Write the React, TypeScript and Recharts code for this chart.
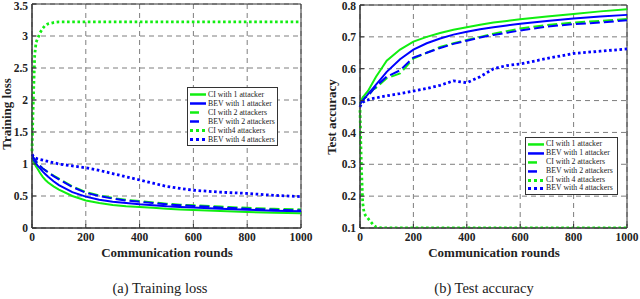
import React from 'react';
import { LineChart, Line, XAxis, YAxis, CartesianGrid, ReferenceArea, Legend } from 'recharts';

const rounds = [0, 5, 10, 15, 20, 30, 40, 50, 60, 80, 100, 150, 200, 250, 300, 350, 400, 450, 500, 550, 600, 700, 800, 900, 1000];
const xTicks = [0, 200, 400, 600, 800, 1000];
const lossTicks = [0, 0.5, 1, 1.5, 2, 2.5, 3, 3.5];
const accTicks = [0.1, 0.2, 0.3, 0.4, 0.5, 0.6, 0.7, 0.8];

// Training loss
const lossCI1 = [1.1, 1.05, 1.0, 0.96, 0.93, 0.86, 0.8, 0.75, 0.71, 0.65, 0.6, 0.5, 0.43, 0.39, 0.36, 0.34, 0.33, 0.315, 0.3, 0.29, 0.28, 0.265, 0.25, 0.24, 0.23];
const lossBEV1 = [1.1, 1.07, 1.04, 1.01, 0.98, 0.93, 0.88, 0.84, 0.8, 0.73, 0.67, 0.56, 0.49, 0.44, 0.41, 0.39, 0.37, 0.355, 0.34, 0.33, 0.32, 0.3, 0.285, 0.27, 0.26];
const lossCI2 = [1.15, 1.1, 1.07, 1.04, 1.01, 0.97, 0.93, 0.9, 0.87, 0.82, 0.77, 0.65, 0.56, 0.51, 0.47, 0.44, 0.42, 0.4, 0.38, 0.365, 0.355, 0.335, 0.315, 0.3, 0.29];
const lossBEV2 = [1.15, 1.1, 1.07, 1.04, 1.01, 0.97, 0.93, 0.9, 0.87, 0.81, 0.76, 0.64, 0.55, 0.5, 0.46, 0.43, 0.41, 0.39, 0.37, 0.355, 0.345, 0.32, 0.3, 0.285, 0.275];
const lossCI4 = [1.2, 2.0, 2.7, 2.9, 2.95, 3.05, 3.12, 3.17, 3.19, 3.21, 3.22, 3.22, 3.22, 3.22, 3.22, 3.22, 3.22, 3.22, 3.22, 3.22, 3.22, 3.22, 3.22, 3.22, 3.22];
const lossBEV4 = [1.15, 1.12, 1.1, 1.09, 1.08, 1.07, 1.06, 1.05, 1.04, 1.02, 1.0, 0.97, 0.94, 0.9, 0.85, 0.8, 0.75, 0.7, 0.65, 0.62, 0.59, 0.56, 0.54, 0.51, 0.49];

// Test accuracy
const accCI1 = [0.49, 0.5, 0.51, 0.515, 0.52, 0.53, 0.545, 0.56, 0.575, 0.6, 0.625, 0.66, 0.685, 0.7, 0.712, 0.722, 0.73, 0.738, 0.745, 0.75, 0.755, 0.764, 0.772, 0.78, 0.787];
const accBEV1 = [0.49, 0.495, 0.5, 0.505, 0.51, 0.52, 0.53, 0.54, 0.55, 0.57, 0.59, 0.63, 0.66, 0.68, 0.695, 0.707, 0.716, 0.724, 0.73, 0.736, 0.741, 0.75, 0.758, 0.764, 0.769];
const accCI2 = [0.49, 0.495, 0.5, 0.505, 0.51, 0.515, 0.525, 0.535, 0.54, 0.555, 0.57, 0.585, 0.632, 0.65, 0.668, 0.68, 0.69, 0.7, 0.71, 0.718, 0.726, 0.737, 0.745, 0.75, 0.756];
const accBEV2 = [0.49, 0.495, 0.5, 0.505, 0.51, 0.515, 0.525, 0.535, 0.545, 0.56, 0.575, 0.595, 0.635, 0.65, 0.665, 0.678, 0.688, 0.698, 0.706, 0.713, 0.72, 0.732, 0.74, 0.745, 0.752];
const accCI4 = [0.47, 0.3, 0.18, 0.15, 0.14, 0.13, 0.12, 0.11, 0.103, 0.1, 0.1, 0.1, 0.1, 0.1, 0.1, 0.1, 0.1, 0.1, 0.1, 0.1, 0.1, 0.1, 0.1, 0.1, 0.1];
const accBEV4 = [0.48, 0.49, 0.495, 0.497, 0.5, 0.502, 0.505, 0.507, 0.508, 0.512, 0.515, 0.522, 0.53, 0.538, 0.548, 0.562, 0.556, 0.575, 0.6, 0.61, 0.615, 0.632, 0.648, 0.655, 0.662];

const lossNames = ['CI with 1 attacker', 'BEV with 1 attacker', 'CI with 2 attackers', 'BEV with 2 attackers', 'CI with4 attackers', 'BEV with 4 attackers'];
const accNames = ['CI with 1 attacker', 'BEV with 1 attacker', 'CI with 2 attackers', 'BEV with 2 attackers', 'CI with 4 attackers', 'BEV with 4 attackers'];

const GREEN = '#11ee11';
const BLUE = '#0000ff';
const FONT = '"Liberation Serif", "DejaVu Serif", serif';

const styles = [
  { color: GREEN, dash: undefined as string | undefined, w: 2, kind: 'solid' },
  { color: BLUE, dash: undefined as string | undefined, w: 2, kind: 'solid' },
  { color: GREEN, dash: '10 4', w: 2, kind: 'dash' },
  { color: BLUE, dash: '10 4', w: 2, kind: 'dash' },
  { color: GREEN, dash: '2.6 2.6', w: 2.8, kind: 'dot' },
  { color: BLUE, dash: '2.6 2.6', w: 2.8, kind: 'dot' },
];

function build(arrs: number[][]) {
  return rounds.map((r, i) => {
    const o: Record<string, number> = { round: r };
    arrs.forEach((a, k) => {
      o['s' + k] = a[i];
    });
    return o;
  });
}

const lossData = build([lossCI1, lossBEV1, lossCI2, lossBEV2, lossCI4, lossBEV4]);
const accData = build([accCI1, accBEV1, accCI2, accBEV2, accCI4, accBEV4]);

function LegendBox({ names, width, rowH }: { names: string[]; width: number; rowH: number }) {
  return (
    <div
      style={{
        width,
        background: '#fff',
        border: '1px solid #333',
        boxSizing: 'border-box',
        padding: '2px 1px 1px 1px',
        fontFamily: FONT,
        fontSize: 7.8,
        lineHeight: rowH + 'px',
        color: '#222',
      }}
    >
      {names.map((n, i) => {
        const s = styles[i];
        return (
          <div key={i} style={{ display: 'flex', alignItems: 'center', height: rowH, whiteSpace: 'nowrap' }}>
            <svg width={19} height={rowH} style={{ flex: 'none' }}>
              {s.kind === 'solid' && <line x1={1} x2={17} y1={rowH / 2} y2={rowH / 2} stroke={s.color} strokeWidth={2.5} />}
              {s.kind === 'dash' && <line x1={1} x2={10} y1={rowH / 2} y2={rowH / 2} stroke={s.color} strokeWidth={2.5} />}
              {s.kind === 'dot' && (
                <line x1={1} x2={17} y1={rowH / 2} y2={rowH / 2} stroke={s.color} strokeWidth={3} strokeDasharray="3 3" />
              )}
            </svg>
            <span style={{ marginLeft: 0 }}>{n}</span>
          </div>
        );
      })}
    </div>
  );
}

const tickStyle = { fontFamily: FONT, fontSize: 11.5, fontWeight: 700, fill: '#222' };

function Chart({
  data,
  names,
  yTicks,
  yDomain,
  yWidth,
  margin,
  legendPos,
  legendWidth,
  rowH,
  yFmt,
}: {
  data: Record<string, number>[];
  names: string[];
  yTicks: number[];
  yDomain: [number, number];
  yWidth: number;
  margin: { top: number; right: number; bottom: number; left: number };
  legendPos: { left: number; top: number };
  legendWidth: number;
  rowH: number;
  yFmt: (v: number) => string;
}) {
  return (
    <LineChart width={320} height={260} data={data} margin={margin}>
      <CartesianGrid stroke="#6f6f6f" strokeDasharray="5 4" strokeWidth={0.9} />
      <XAxis
        dataKey="round"
        type="number"
        domain={[0, 1000]}
        ticks={xTicks}
        height={32}
        tickSize={-4}
        tickMargin={9}
        tick={tickStyle}
        stroke="#333"
        axisLine={{ stroke: '#333' }}
        tickLine={{ stroke: '#333' }}
      />
      <YAxis
        type="number"
        domain={yDomain}
        ticks={yTicks}
        width={yWidth}
        tickSize={-4}
        tickMargin={8}
        tick={tickStyle}
        tickFormatter={yFmt}
        allowDataOverflow
        axisLine={{ stroke: '#333' }}
        tickLine={{ stroke: '#333' }}
      />
      {styles.map((s, i) => (
        <Line
          key={i}
          dataKey={'s' + i}
          name={names[i]}
          type="linear"
          stroke={s.color}
          strokeWidth={s.w}
          strokeDasharray={s.dash}
          dot={false}
          activeDot={false}
          isAnimationActive={false}
        />
      ))}
      <ReferenceArea
        x1={0}
        x2={1000}
        y1={yDomain[0]}
        y2={yDomain[1]}
        fill="none"
        fillOpacity={0}
        stroke="#333"
        strokeWidth={1}
        ifOverflow="visible"
      />
      <Legend
        layout="horizontal"
        verticalAlign="middle"
        align="center"
        wrapperStyle={{ left: legendPos.left, top: legendPos.top, width: legendWidth, height: 'auto' }}
        content={() => <LegendBox names={names} width={legendWidth} rowH={rowH} />}
      />
    </LineChart>
  );
}

export default function App() {
  return (
    <div style={{ position: 'fixed', left: 0, top: 0, width: 640, height: 299, background: '#fff', overflow: 'hidden' }}>
      <div style={{ position: 'absolute', left: 0, top: 0 }}>
        <Chart
          data={lossData}
          names={lossNames}
          yTicks={lossTicks}
          yDomain={[0, 3.5]}
          yWidth={32}
          margin={{ top: 4, right: 19, bottom: 0, left: 0 }}
          legendPos={{ left: 187, top: 87 }}
          legendWidth={91}
          rowH={9}
          yFmt={(v) => String(v)}
        />
      </div>
      <div style={{ position: 'absolute', left: 320, top: 0 }}>
        <Chart
          data={accData}
          names={accNames}
          yTicks={accTicks}
          yDomain={[0.1, 0.8]}
          yWidth={40}
          margin={{ top: 5, right: 13, bottom: 0, left: 0 }}
          legendPos={{ left: 205, top: 137 }}
          legendWidth={93}
          rowH={8.9}
          yFmt={(v) => v.toFixed(1)}
        />
      </div>
      <svg width={640} height={299} style={{ position: 'absolute', left: 0, top: 0, pointerEvents: 'none' }}>
        <g fontFamily={FONT} fill="#222">
          <text x={167} y={257} textAnchor="middle" fontSize={13} fontWeight={700}>Communication rounds</text>
          <text x={494} y={257} textAnchor="middle" fontSize={13} fontWeight={700}>Communication rounds</text>
          <text x={11} y={114} textAnchor="middle" fontSize={13} fontWeight={700} transform="rotate(-90 11 114)">Training loss</text>
          <text x={336} y={117} textAnchor="middle" fontSize={13} fontWeight={700} transform="rotate(-90 336 117)">Test accuracy</text>
          <text x={160} y={293} textAnchor="middle" fontSize={14.5}>(a)  Training loss</text>
          <text x={484} y={293} textAnchor="middle" fontSize={14.5}>(b)  Test accuracy</text>
        </g>
      </svg>
    </div>
  );
}
